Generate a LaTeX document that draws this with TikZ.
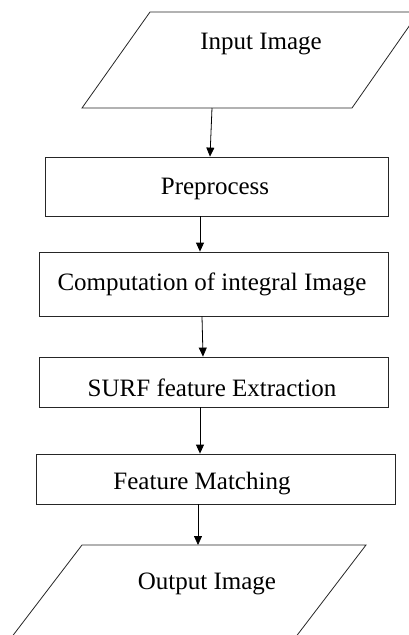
\documentclass[tikz,border=0pt]{standalone}
\usepackage{fontspec}
\setmainfont{Liberation Serif}
\usetikzlibrary{arrows.meta}
\begin{document}
\begin{tikzpicture}[x=1pt,y=-1pt,
  box/.style={draw=black!85, line width=0.8pt, inner sep=0pt},
  txt/.style={inner sep=0pt, font=\fontsize{25}{30}\selectfont},
  arr/.style={draw=black, line width=0.8pt, -{Triangle[length=9pt,width=8pt]}}]
\useasboundingbox (0,0) rectangle (409,635);
\clip (0,0) rectangle (409,635);
% Input parallelogram
\draw[black!85, line width=0.8pt] (150,12) -- (419,12) -- (352,108) -- (82,108) -- cycle;
\node[txt] (intext) at (261,44) {Input Image};
\coordinate (inB) at (212,108);
% boxes
\node[box, minimum width=343pt, minimum height=59pt] (pre) at (216.5,186.5) {};
\node[txt] (pretext) at (215,189) {Preprocess};
\node[box, minimum width=349pt, minimum height=64pt] (comp) at (213.5,284) {};
\node[txt] (comptext) at (212,284) {Computation of integral Image};
\node[box, minimum width=349pt, minimum height=50pt] (surf) at (213.5,382) {};
\node[txt] (surftext) at (212,388) {SURF feature Extraction};
\node[box, minimum width=359pt, minimum height=50pt] (fm) at (215.5,479) {};
\node[txt] (fmtext) at (202,484) {Feature Matching};
% Output parallelogram
\draw[black!85, line width=0.8pt] (82,545) -- (366,545) -- (282,655) -- (-2,655) -- cycle;
\node[txt] (outtext) at (207,584) {Output Image};
\coordinate (outT) at (198,545);
% arrows
\draw[arr] (inB) -- (pre.north -| 210,0);
\draw[arr] (pre.south -| 200,0) -- (comp.north -| 200,0);
\draw[arr] (comp.south -| 202,0) -- (surf.north -| 203,0);
\draw[arr] (surf.south -| 200,0) -- (fm.north -| 200,0);
\draw[arr] (fm.south -| outT) -- (outT);
\end{tikzpicture}
\end{document}
